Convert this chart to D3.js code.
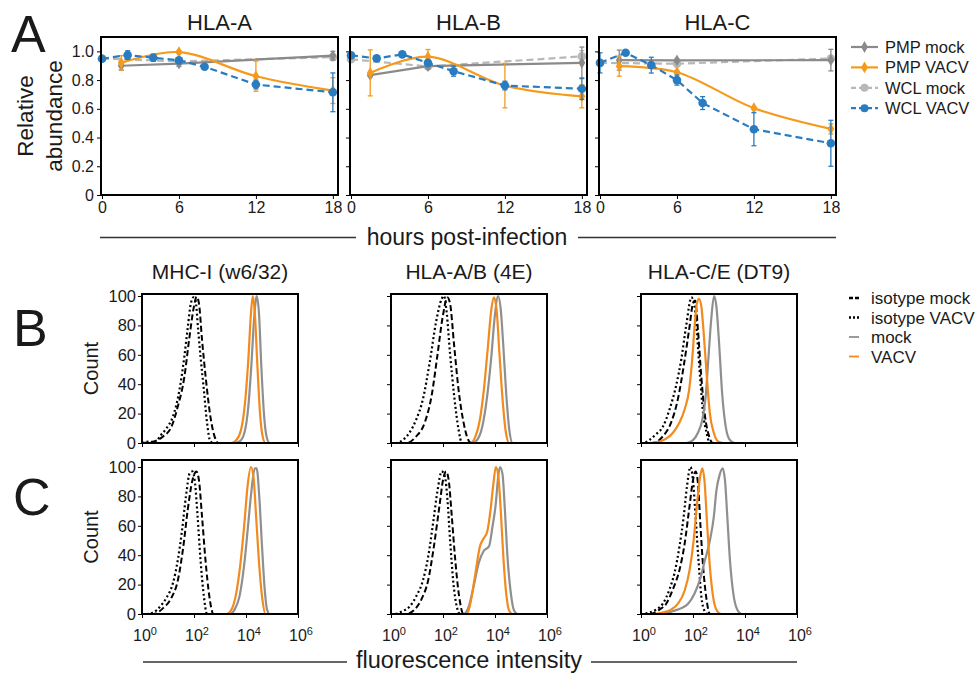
<!DOCTYPE html>
<html>
<head>
<meta charset="utf-8">
<script src="https://cdn.jsdelivr.net/npm/d3@7"></script>
<style>
  body { margin: 0; background: #fff; }
  svg { font-family: "Liberation Sans", Arial, sans-serif; }
</style>
</head>
<body>
<svg id="fig" width="978" height="675"></svg>
<script>
// ---------- panel A data ----------
const proteins = ["HLA-A", "HLA-B", "HLA-C"];
const pmpMockHours = [1.5, 6, 18];
const pmpVacvHours = [1.5, 6, 12, 18];
const wclMockHours = [0, 6, 18];
const wclVacvHours = [0, 2, 4, 6, 8, 12, 18];

const pmpMockMean = [[0.90, 0.915, 0.97], [0.834, 0.897, 0.92], [0.939, 0.937, 0.939]];
const pmpMockErr = [[0.03, 0.02, 0.03], [0.01, 0.02, 0.11], [0.07, 0.01, 0.075]];
const pmpVacvMean = [[0.92, 0.995, 0.827, 0.727], [0.85, 0.963, 0.762, 0.687], [0.897, 0.855, 0.605, 0.46]];
const pmpVacvErr = [[0.05, 0.01, 0.105, 0.09], [0.16, 0.05, 0.155, 0.08], [0.07, 0.01, 0.01, 0.035]];
const wclMockMean = [[0.95, 0.93, 0.96], [0.945, 0.895, 0.965], [0.92, 0.914, 0.95]];
const wclMockErr = [[0.01, 0.01, 0.02], [0.01, 0.02, 0.04], [0.01, 0.02, 0.02]];
const wclVacvMean = [[0.949, 0.974, 0.956, 0.937, 0.893, 0.769, 0.715],
                     [0.972, 0.951, 0.979, 0.92, 0.862, 0.762, 0.74],
                     [0.92, 0.99, 0.904, 0.80, 0.64, 0.458, 0.36]];
const wclVacvErr = [[0.01, 0.03, 0.025, 0.01, 0.01, 0.03, 0.135],
                    [0.01, 0.01, 0.01, 0.02, 0.035, 0.03, 0.075],
                    [0.07, 0.01, 0.055, 0.035, 0.045, 0.115, 0.16]];
const hourTicks = [0, 6, 12, 18];
const abundanceTicks = [0, 0.2, 0.4, 0.6, 0.8, 1.0];

// ---------- panel B / C data: [log10 intensity, count] ----------
const histTitles = ["MHC-I (w6/32)", "HLA-A/B (4E)", "HLA-C/E (DT9)"];
const countTicks = [0, 20, 40, 60, 80, 100];
const decadeTicks = [0, 2, 4, 6];

const b1IsoMock = [[0,0],[0.3,0.5],[0.81,4.5],[1.13,11],[1.38,25],[1.63,45],[1.81,70],[2.0,93],[2.1,99.5],[2.19,95],[2.31,70],[2.46,43],[2.63,18],[2.79,4.5],[2.94,0],[6,0]];
const b1IsoVacv = [[0,0],[0.3,1],[0.5,0],[0.69,4.5],[0.94,10],[1.19,18],[1.44,36],[1.63,59],[1.75,77],[1.88,95],[1.98,99],[2.06,97],[2.16,77],[2.25,59],[2.38,36],[2.5,14],[2.63,1],[2.75,0],[6,0]];
const b1Mock = [[0,0],[3.56,0],[3.75,1],[3.94,7],[4.09,25],[4.21,54],[4.31,84],[4.41,100],[4.5,88],[4.59,52],[4.69,20],[4.79,4.5],[4.91,0],[6,0]];
const b1Vacv = [[0,0],[3.44,0],[3.63,2],[3.81,9],[3.96,27],[4.09,57],[4.19,88],[4.26,100],[4.34,88],[4.44,52],[4.54,20],[4.64,4.5],[4.75,0],[6,0]];

const b2IsoMock = [[0,0],[0.58,0],[0.97,4.5],[1.3,14],[1.56,32],[1.78,59],[1.99,86],[2.17,99],[2.27,95],[2.43,66],[2.6,36],[2.79,14],[2.95,3],[3.08,0],[6,0]];
const b2IsoVacv = [[0,0],[0.2,0],[0.45,2],[0.71,7],[0.97,16],[1.23,30],[1.49,55],[1.73,82],[1.95,98],[2.04,100],[2.14,89],[2.27,61],[2.43,32],[2.6,9],[2.73,0],[6,0]];
const b2Mock = [[0,0],[3.12,0],[3.31,2],[3.51,11],[3.7,32],[3.86,59],[3.99,86],[4.12,100],[4.22,91],[4.32,66],[4.43,34],[4.55,9],[4.68,0],[6,0]];
const b2Vacv = [[0,0],[3.05,0],[3.25,4.5],[3.42,16],[3.57,36],[3.73,66],[3.86,91],[3.96,99],[4.06,91],[4.17,61],[4.29,30],[4.42,7],[4.55,0],[6,0]];

const b3IsoMock = [[0,0],[0.45,0],[0.84,4.5],[1.16,14],[1.42,30],[1.64,52],[1.85,77],[2.0,95],[2.08,97],[2.19,77],[2.32,45],[2.45,20],[2.62,4.5],[2.77,0],[6,0]];
const b3IsoVacv = [[0,0],[0.06,0],[0.32,2],[0.58,6],[0.84,11],[1.1,23],[1.35,39],[1.55,57],[1.74,80],[1.94,99],[2.06,93],[2.15,75],[2.26,48],[2.39,20],[2.52,7],[2.65,0],[6,0]];
const b3Mock = [[0,0],[1.74,0],[2.0,2],[2.19,7],[2.36,16],[2.49,32],[2.59,57],[2.7,84],[2.81,100],[2.9,93],[3.01,66],[3.12,34],[3.26,11],[3.42,2],[3.61,0],[6,0]];
const b3Vacv = [[0,0],[0.32,0],[0.71,1],[0.97,3],[1.23,7],[1.48,14],[1.68,23],[1.85,36],[1.97,57],[2.06,79],[2.15,95],[2.23,98],[2.32,93],[2.41,75],[2.52,48],[2.65,20],[2.8,7],[2.97,1],[3.16,0],[6,0]];

const c1IsoMock = [[0,0],[0.44,0],[0.81,4],[1.13,11],[1.38,23],[1.59,46],[1.76,71],[1.94,91],[2.09,97],[2.19,91],[2.31,66],[2.44,37],[2.59,12],[2.75,0],[6,0]];
const c1IsoVacv = [[0,0],[0.19,0],[0.44,1],[0.69,5],[0.94,11],[1.19,21],[1.38,37],[1.54,57],[1.69,80],[1.84,96],[1.94,97],[2.04,89],[2.14,66],[2.25,37],[2.38,12],[2.5,0],[6,0]];
const c1Mock = [[0,0],[3.38,0],[3.56,3],[3.75,12],[3.94,35],[4.09,62],[4.21,84],[4.34,99],[4.41,99],[4.51,80],[4.61,48],[4.71,19],[4.81,3],[4.91,0],[6,0]];
const c1Vacv = [[0,0],[3.25,0],[3.44,3],[3.6,12],[3.79,35],[3.94,62],[4.06,87],[4.19,100],[4.29,93],[4.39,66],[4.5,35],[4.63,10],[4.75,0],[6,0]];

const c2IsoMock = [[0,0],[0.58,0],[0.91,3],[1.17,10],[1.43,23],[1.65,46],[1.86,73],[2.01,92],[2.12,97],[2.22,91],[2.34,66],[2.47,37],[2.62,12],[2.79,0],[6,0]];
const c2IsoVacv = [[0,0],[0.13,0],[0.45,2],[0.71,5],[0.97,12],[1.23,23],[1.43,39],[1.62,62],[1.79,84],[1.95,97],[2.08,93],[2.17,78],[2.27,51],[2.4,21],[2.53,5],[2.66,0],[6,0]];
const c2Mock = [[0,0],[2.79,0],[2.99,5],[3.18,19],[3.38,35],[3.57,43],[3.77,46],[3.9,59],[4.03,75],[4.12,93],[4.19,100],[4.29,95],[4.38,71],[4.48,39],[4.61,14],[4.74,2],[4.87,0],[6,0]];
const c2Vacv = [[0,0],[2.92,0],[3.05,7],[3.25,28],[3.42,46],[3.55,51],[3.7,56],[3.83,71],[3.94,89],[4.03,100],[4.12,95],[4.22,71],[4.32,39],[4.43,14],[4.55,2],[4.68,0],[6,0]];

const c3IsoMock = [[0,0],[0.32,0],[0.71,3],[0.97,7],[1.23,17],[1.48,30],[1.68,48],[1.85,71],[2.0,91],[2.1,97],[2.19,89],[2.28,62],[2.39,32],[2.52,10],[2.65,0],[6,0]];
const c3IsoVacv = [[0,0],[0.06,0],[0.32,1],[0.58,3],[0.84,7],[1.1,17],[1.29,28],[1.48,46],[1.64,66],[1.77,87],[1.9,100],[2.0,91],[2.1,66],[2.21,37],[2.32,12],[2.45,2],[2.58,0],[6,0]];
const c3Mock = [[0,0],[0.84,0],[1.23,2],[1.55,4],[1.81,7],[2.06,14],[2.26,23],[2.45,36],[2.65,50],[2.8,66],[2.9,84],[3.03,95],[3.14,99],[3.23,91],[3.32,66],[3.42,37],[3.55,14],[3.7,3],[3.87,0],[6,0]];
const c3Vacv = [[0,0],[0.45,0],[0.84,1],[1.16,3],[1.42,7],[1.68,16],[1.87,30],[2.03,51],[2.15,74],[2.28,94],[2.36,99],[2.44,91],[2.54,62],[2.65,32],[2.77,12],[2.93,2],[3.1,0],[6,0]];

const rowB = [[b1IsoMock, b1IsoVacv, b1Mock, b1Vacv], [b2IsoMock, b2IsoVacv, b2Mock, b2Vacv], [b3IsoMock, b3IsoVacv, b3Mock, b3Vacv]];
const rowC = [[c1IsoMock, c1IsoVacv, c1Mock, c1Vacv], [c2IsoMock, c2IsoVacv, c2Mock, c2Vacv], [c3IsoMock, c3IsoVacv, c3Mock, c3Vacv]];

// ---------- styles ----------
const GRAY_DARK = "#8a8a8a", GRAY_LIGHT = "#b8b8b8", ORANGE = "#f59a1b", BLUE = "#2a7cc1";
const H_ORANGE = "#f28a1e", H_GRAY = "#8f8f8f";
const TXT = "#1a1a1a";
const FONT = "Liberation Sans, Arial, sans-serif";

var svg = d3.select("#fig");

function label(x, y, text, size, anchor) {
    return svg.append("text").attr("x", x).attr("y", y)
        .attr("font-size", size).attr("fill", TXT)
        .attr("text-anchor", anchor || "middle").text(text);
}

// ---------- panel A ----------
const aLeft = [101, 350, 599], aW = 237, aTop = 37, aBottom = 195;

function diamond(g, x, y, color) {
    g.append("path")
        .attr("d", d3.symbol().type(d3.symbolDiamond).size(40)())
        .attr("transform", "translate(" + x + "," + y + ")")
        .attr("fill", color);
}

function drawSeries(g, x, y, hours, mean, err, color, dash, curve, marker) {
    var pts = hours.map((h, i) => ({ h: h, v: mean[i], e: err[i] }));
    // error bars
    pts.forEach(p => {
        g.append("line").attr("x1", x(p.h)).attr("x2", x(p.h))
            .attr("y1", y(p.v - p.e)).attr("y2", y(p.v + p.e))
            .attr("stroke", color).attr("stroke-width", 1.3);
        [p.v - p.e, p.v + p.e].forEach(v => {
            g.append("line").attr("x1", x(p.h) - 2.5).attr("x2", x(p.h) + 2.5)
                .attr("y1", y(v)).attr("y2", y(v))
                .attr("stroke", color).attr("stroke-width", 1.3);
        });
    });
    g.append("path")
        .datum(pts)
        .attr("d", d3.line().x(d => x(d.h)).y(d => y(d.v)).curve(curve))
        .attr("fill", "none")
        .attr("stroke", color)
        .attr("stroke-width", 2.2)
        .attr("stroke-dasharray", dash);
    pts.forEach(p => {
        if (marker == "diamond") diamond(g, x(p.h), y(p.v), color);
        else g.append("circle").attr("cx", x(p.h)).attr("cy", y(p.v)).attr("r", 4.3).attr("fill", color);
    });
}

proteins.forEach((name, k) => {
    var x = d3.scaleLinear().domain([0, 18.4]).range([aLeft[k] + 1, aLeft[k] + aW]);
    var y = d3.scaleLinear().domain([0, 1.1]).range([aBottom, aTop]);
    var g = svg.append("g");

    g.append("g").attr("transform", "translate(0," + aBottom + ")")
        .call(d3.axisBottom(x).tickValues(hourTicks).tickSize(4).tickPadding(3))
        .call(a => a.select(".domain").remove())
        .call(a => a.selectAll("text").attr("font-size", 16).attr("fill", TXT).attr("font-family", FONT));
    g.append("g").attr("transform", "translate(" + aLeft[k] + ",0)")
        .call(d3.axisLeft(y).tickValues(abundanceTicks).tickSize(4).tickPadding(3)
            .tickFormat(k == 0 ? (d => d == 0 ? "0" : d3.format(".1f")(d)) : ""))
        .call(a => a.select(".domain").remove())
        .call(a => a.selectAll("text").attr("font-size", 16).attr("fill", TXT).attr("font-family", FONT));

    var marks = g.append("g");
    drawSeries(marks, x, y, wclMockHours, wclMockMean[k], wclMockErr[k], GRAY_LIGHT, "7,4", d3.curveLinear, "circle");
    drawSeries(marks, x, y, pmpMockHours, pmpMockMean[k], pmpMockErr[k], GRAY_DARK, null, d3.curveLinear, "diamond");
    drawSeries(marks, x, y, pmpVacvHours, pmpVacvMean[k], pmpVacvErr[k], ORANGE, null, d3.curveCatmullRom, "diamond");
    drawSeries(marks, x, y, wclVacvHours, wclVacvMean[k], wclVacvErr[k], BLUE, "7,4", d3.curveLinear, "circle");

    g.append("rect").attr("x", aLeft[k]).attr("y", aTop).attr("width", aW).attr("height", aBottom - aTop)
        .attr("fill", "none").attr("stroke", "#000").attr("stroke-width", 2);

    label(aLeft[k] + aW / 2, 30, name, 22);
});

label(11, 52, "A", 52, "start");
svg.append("text").attr("transform", "translate(33,116) rotate(-90)")
    .attr("text-anchor", "middle").attr("font-size", 22.5).attr("fill", TXT).text("Relative");
svg.append("text").attr("transform", "translate(62,116) rotate(-90)")
    .attr("text-anchor", "middle").attr("font-size", 22.5).attr("fill", TXT).text("abundance");

label(467, 245, "hours post-infection", 23);
svg.append("line").attr("x1", 100).attr("x2", 356).attr("y1", 237.5).attr("y2", 237.5).attr("stroke", "#333").attr("stroke-width", 1.3);
svg.append("line").attr("x1", 578).attr("x2", 836).attr("y1", 237.5).attr("y2", 237.5).attr("stroke", "#333").attr("stroke-width", 1.3);

// legend A
const legendA = [
    { name: "PMP mock", color: GRAY_DARK, dash: null, marker: "diamond" },
    { name: "PMP VACV", color: ORANGE, dash: null, marker: "diamond" },
    { name: "WCL mock", color: GRAY_LIGHT, dash: "5,3", marker: "circle" },
    { name: "WCL VACV", color: BLUE, dash: "5,3", marker: "circle" }
];
legendA.forEach((d, i) => {
    var yy = 47 + i * 20.4;
    svg.append("line").attr("x1", 851).attr("x2", 878).attr("y1", yy).attr("y2", yy)
        .attr("stroke", d.color).attr("stroke-width", 2.2).attr("stroke-dasharray", d.dash);
    if (d.marker == "diamond") diamond(svg, 864.5, yy, d.color);
    else svg.append("circle").attr("cx", 864.5).attr("cy", yy).attr("r", 4).attr("fill", d.color);
    label(885, yy + 6, d.name, 16.5, "start");
});

// ---------- panels B and C ----------
const hLeft = [142, 391, 641], hW = 156;
const rows = [
    { data: rowB, top: 294, zero: 443, letter: "B", letterY: 346, xLabels: false },
    { data: rowC, top: 460, zero: 614, letter: "C", letterY: 515, xLabels: true }
];
const histStyles = [
    { color: "#000", dash: "6,3", width: 2 },
    { color: "#000", dash: "2,2.6", width: 2.2 },
    { color: H_GRAY, dash: null, width: 2.2 },
    { color: H_ORANGE, dash: null, width: 2.2 }
];

rows.forEach((row, r) => {
    row.data.forEach((curves, k) => {
        var x = d3.scaleLinear().domain([0, 6]).range([hLeft[k], hLeft[k] + hW]);
        var y = d3.scaleLinear().domain([0, 100]).range([row.zero, row.zero - 147]);
        var g = svg.append("g");

        var xAxis = d3.axisBottom(x).tickValues(decadeTicks).tickSize(4).tickPadding(4).tickFormat("");
        var gx = g.append("g").attr("transform", "translate(0," + row.zero + ")").call(xAxis);
        gx.select(".domain").remove();
        if (row.xLabels) {
            decadeTicks.forEach(t => {
                var tx = svg.append("text").attr("x", x(t) + 3).attr("y", 641)
                    .attr("text-anchor", "middle").attr("font-size", 16).attr("fill", TXT);
                tx.append("tspan").text("10");
                tx.append("tspan").attr("dy", -6.5).attr("font-size", 11).text(t);
            });
        }
        var gy = g.append("g").attr("transform", "translate(" + hLeft[k] + ",0)")
            .call(d3.axisLeft(y).tickValues(countTicks).tickSize(4).tickPadding(2).tickFormat(k == 0 ? d3.format("d") : ""));
        gy.select(".domain").remove();
        gy.selectAll("text").attr("font-size", 16.5).attr("fill", TXT).attr("font-family", FONT);

        curves.forEach((pts, s) => {
            var st = histStyles[s];
            g.append("path")
                .datum(pts)
                .attr("d", d3.line().x(d => x(d[0])).y(d => y(d[1])).curve(d3.curveMonotoneX))
                .attr("fill", "none")
                .attr("stroke", st.color)
                .attr("stroke-width", st.width)
                .attr("stroke-dasharray", st.dash);
        });

        g.append("rect").attr("x", hLeft[k]).attr("y", row.top).attr("width", hW).attr("height", row.zero - row.top)
            .attr("fill", "none").attr("stroke", "#000").attr("stroke-width", 2);
    });

    label(13, row.letterY, row.letter, 52, "start");
    svg.append("text").attr("transform", "translate(98," + ((row.top + row.zero) / 2) + ") rotate(-90)")
        .attr("text-anchor", "middle").attr("font-size", 20).attr("fill", TXT).text("Count");
});

histTitles.forEach((t, k) => label(hLeft[k] + hW / 2, 279, t, 21));

label(469, 668, "fluorescence intensity", 23.5);
svg.append("line").attr("x1", 143).attr("x2", 347).attr("y1", 662).attr("y2", 662).attr("stroke", "#333").attr("stroke-width", 1.3);
svg.append("line").attr("x1", 591).attr("x2", 797).attr("y1", 662).attr("y2", 662).attr("stroke", "#333").attr("stroke-width", 1.3);

// legend B
const legendB = [
    { name: "isotype mock", color: "#000", dash: "4,2", w: 2.4 },
    { name: "isotype VACV", color: "#000", dash: "2,2", w: 2.4 },
    { name: "mock", color: H_GRAY, dash: null, w: 1.8 },
    { name: "VACV", color: H_ORANGE, dash: null, w: 1.8 }
];
legendB.forEach((d, i) => {
    var yy = 298 + i * 19.5;
    svg.append("line").attr("x1", 849).attr("x2", 859).attr("y1", yy).attr("y2", yy)
        .attr("stroke", d.color).attr("stroke-width", d.w).attr("stroke-dasharray", d.dash);
    label(871, yy + 6, d.name, 17, "start");
});
</script>
</body>
</html>
